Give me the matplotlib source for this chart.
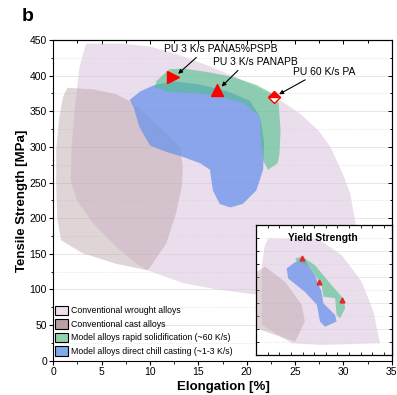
"""
Tensile strength vs elongation map with a yield strength inset.
"""
import matplotlib
matplotlib.use('Agg')
import matplotlib.pyplot as plt
from matplotlib.patches import Polygon, Patch
from matplotlib.ticker import MultipleLocator, NullFormatter

plt.rcParams['font.family'] = ['Liberation Sans', 'DejaVu Sans']

# ---- main panel regions (elongation %, tensile strength MPa) ----
wrought_x = [3.4, 7, 10, 13, 16, 19, 22.4, 25.5, 27.5, 28.7, 30, 30.7, 31.3, 31.5, 31.5, 30.5,
             26, 21.4, 16.9, 13.4, 9.7, 8.6, 6.5, 4.1, 2.4, 1.8, 1.9, 2.2, 2.4, 2.7, 3.1]
wrought_y = [445, 445, 441, 429, 414, 397, 375, 347, 322, 299, 260, 235, 190, 150, 120, 95,
             88, 92, 100, 109, 127, 136, 160, 193, 226, 253, 300, 350, 375, 412, 432]

cast_x = [1.45, 4, 6.5, 8.2, 10, 11.7, 13.1, 13.4, 13.3, 12.7, 11.7, 10, 9.7,
          6.5, 3, 0.8, 0.4, 0.3, 0.3, 0.6, 1.0]
cast_y = [383, 381, 374, 362, 340, 319, 300, 272, 245, 207, 165, 131, 127,
          136, 151, 169, 200, 250, 296, 340, 370]

chill_x = [7.9, 9, 10.5, 12.5, 15, 18, 20.3, 21.4, 21.8, 21.7, 21, 19.6, 18.3, 17.2,
           16.5, 16.2, 15.2, 13.4, 11.7, 10, 8.9, 8.3]
chill_y = [366, 378, 387, 392, 388, 378, 365, 342, 306, 268, 239, 220, 215, 220,
           239, 268, 277, 286, 293, 302, 328, 356]

rapid_x = [10.5, 10.7, 12, 13.4, 16, 18.6, 21, 22.5, 23.3, 23.5, 23.4, 23.2, 22.2, 21.7,
           21.4, 21.4, 19.6, 17, 15.2, 12]
rapid_y = [383, 393, 409, 410, 405, 398, 387, 376, 362, 324, 291, 277, 268, 281,
           317, 342, 362, 371, 375, 377]

# marked alloys
pt_names = ['PU 3 K/s PANA5%PSPB', 'PU 3 K/s PANAPB', 'PU 60 K/s PA']
pt_x = [12.4, 16.9, 22.8]
pt_y = [398, 380, 370]
label_x = [11.4, 16.5, 24.8]
label_y = [437, 419.5, 404.5]
arrow_from_x = [15.0, 19.3, 26.3]
arrow_from_y = [428, 410, 396]

# ---- inset regions (yield strength, no tick labels) ----
ys_wrought_x = [3.2, 16.1, 22.1, 27.3, 30.3, 32, 16.9, 9.2, 1.5, 1.5, 2.3]
ys_wrought_y = [314, 312, 269, 197, 117, 31.5, 27, 31.5, 81, 242, 296]
ys_cast_x = [0.2, 2.3, 7.5, 11.8, 12.6, 10.1, 4.9, 0.2]
ys_cast_y = [224, 238, 197, 135, 90, 36, 54, 72]
ys_chill_x = [7.9, 10.1, 12.6, 15.2, 16.9, 17.4, 20.4, 20.8, 17.8, 16.5, 15.7, 12.6, 8.3]
ys_chill_y = [233, 250, 256, 215, 170, 139, 108, 90, 76, 90, 135, 170, 206]
ys_rapid_x = [10.1, 11.8, 15.2, 19.5, 22.5, 23, 21.7, 20.8, 20.4, 17.4, 16.9, 13.5, 10.5]
ys_rapid_y = [260, 265, 242, 188, 153, 126, 99, 108, 153, 157, 188, 242, 251]
ys_pt_x = [11.8, 16.2, 22.1]
ys_pt_y = [260, 196, 148]

legend_labels = ['Conventional wrought alloys', 'Conventional cast alloys',
                 'Model alloys rapid solidification (~60 K/s)',
                 'Model alloys direct chill casting (~1-3 K/s)']

c_wrought = '#dcc3de'
c_cast = '#b8a3a5'
c_chill = '#6b93ec'
c_rapid = '#4fc08a'


def add_region(ax, xs, ys, color, alpha, z):
    poly = Polygon(list(zip(xs, ys)), closed=True, facecolor=color, alpha=alpha,
                   edgecolor='none', zorder=z)
    ax.add_patch(poly)


fig = plt.figure(figsize=(3.97, 3.95), dpi=100)
ax = fig.add_axes([0.1343, 0.0868, 0.8524, 0.8119])

for v in range(50, 450, 50):
    ax.axhline(v, color='#e2e2e2', lw=0.6, zorder=0)
for v in range(25, 450, 50):
    ax.axhline(v, color='#d2d2d2', lw=0.5, ls=(0, (1, 2)), zorder=0)

add_region(ax, wrought_x, wrought_y, c_wrought, 0.55, 1)
add_region(ax, cast_x, cast_y, c_cast, 0.45, 2)
add_region(ax, chill_x, chill_y, c_chill, 0.75, 3)
add_region(ax, rapid_x, rapid_y, c_rapid, 0.6, 4)

ax.plot(pt_x[0], pt_y[0], marker='>', ms=8, color='red', ls='none', zorder=6)
ax.plot(pt_x[1], pt_y[1], marker='^', ms=8, color='red', ls='none', zorder=6)
ax.plot(pt_x[2], pt_y[2], marker='D', ms=6.5, color='red', fillstyle='top',
        markerfacecoloralt='white', markeredgecolor='red', mew=1, ls='none', zorder=6)

for i in range(3):
    ax.text(label_x[i], label_y[i], pt_names[i], fontsize=7.5, va='center', ha='left', zorder=7)
    ax.annotate('', xy=(pt_x[i] + 0.3, pt_y[i] + 2), xytext=(arrow_from_x[i], arrow_from_y[i]),
                arrowprops=dict(arrowstyle='-|>', lw=0.8, color='black', mutation_scale=6),
                zorder=7)

ax.set_xlim(0, 35)
ax.set_ylim(0, 450)
ax.xaxis.set_major_locator(MultipleLocator(5))
ax.xaxis.set_minor_locator(MultipleLocator(2.5))
ax.yaxis.set_major_locator(MultipleLocator(50))
ax.yaxis.set_minor_locator(MultipleLocator(25))
ax.tick_params(which='major', direction='out', length=3, width=0.8, labelsize=7.5, pad=1.5)
ax.tick_params(which='minor', direction='out', length=1.8, width=0.6)
for s in ax.spines.values():
    s.set_linewidth(0.8)

# inward ticks on the top and right spines
top = ax.secondary_xaxis('top')
top.xaxis.set_major_locator(MultipleLocator(5))
top.xaxis.set_minor_locator(MultipleLocator(2.5))
top.tick_params(which='both', direction='in', labeltop=False, width=0.7)
top.tick_params(which='major', length=3)
top.tick_params(which='minor', length=1.8)
right = ax.secondary_yaxis('right')
right.yaxis.set_major_locator(MultipleLocator(50))
right.yaxis.set_minor_locator(MultipleLocator(25))
right.tick_params(which='both', direction='in', labelright=False, width=0.7)
right.tick_params(which='major', length=3)
right.tick_params(which='minor', length=1.8)

ax.set_xlabel('Elongation [%]', fontsize=9.5, fontweight='bold')
ax.set_ylabel('Tensile Strength [MPa]', fontsize=9.5, fontweight='bold')
ax.xaxis.set_label_coords(0.504, -0.062)
ax.yaxis.set_label_coords(-0.075, 0.5)

handles = [Patch(facecolor='#ecdeec', edgecolor='black', lw=0.8),
           Patch(facecolor='#b9a0a3', edgecolor='black', lw=0.8),
           Patch(facecolor='#8fd4aa', edgecolor='black', lw=0.8),
           Patch(facecolor='#7eaaee', edgecolor='black', lw=0.8)]
ax.legend(handles, legend_labels, loc='lower left', bbox_to_anchor=(0.006, 0.015),
          frameon=False, fontsize=6.3, handlelength=1.5, handleheight=1.25,
          handletextpad=0.3, labelspacing=0.45, borderpad=0, borderaxespad=0)

fig.text(0.054, 0.9476, 'b', fontsize=14, fontweight='bold', va='baseline')

# ---- inset ----
ins = fig.add_axes([0.6448, 0.1013, 0.3418, 0.3291])
ins.set_facecolor('white')
for v in range(70, 350, 70):
    ins.axhline(v, color='#e2e2e2', lw=0.5, zorder=0)
for v in range(35, 350, 70):
    ins.axhline(v, color='#d2d2d2', lw=0.5, ls=(0, (1, 2)), zorder=0)
add_region(ins, ys_wrought_x, ys_wrought_y, c_wrought, 0.55, 1)
add_region(ins, ys_cast_x, ys_cast_y, c_cast, 0.45, 2)
add_region(ins, ys_chill_x, ys_chill_y, c_chill, 0.75, 3)
add_region(ins, ys_rapid_x, ys_rapid_y, c_rapid, 0.6, 4)
ins.plot(ys_pt_x, ys_pt_y, marker='^', ms=3.5, color='#e8262a', ls='none', zorder=6)
ins.set_xlim(0, 35)
ins.set_ylim(0, 350)
ins.xaxis.set_major_locator(MultipleLocator(3))
ins.yaxis.set_major_locator(MultipleLocator(35))
ins.xaxis.set_major_formatter(NullFormatter())
ins.yaxis.set_major_formatter(NullFormatter())
ins.tick_params(direction='in', length=2, width=0.6, top=True, right=True)
for s in ins.spines.values():
    s.set_linewidth(0.9)
ins.text(0.49, 0.9, 'Yield Strength', transform=ins.transAxes, fontsize=7.4,
         fontweight='bold', ha='center', va='center', zorder=7)

fig.savefig('out.png', dpi=100)
